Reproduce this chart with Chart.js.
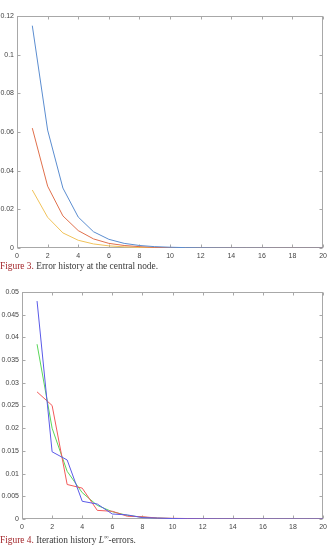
<!DOCTYPE html>
<html>
<head>
<meta charset="utf-8">
<script src="https://cdn.jsdelivr.net/npm/chart.js@4"></script>
<style>
  body { margin:0; background:#fff; width:331px; height:545px; position:relative; overflow:hidden; }
  canvas { position:absolute; left:0; }
  .cap { position:absolute; left:0; font:9.4px "Liberation Serif", "DejaVu Serif", serif; color:#3a3a3a; white-space:nowrap; line-height:10px; }
  .cap b { font-weight:normal; color:#a3262a; }
</style>
</head>
<body>
<canvas id="c1" width="331" height="262" style="top:0"></canvas>
<div class="cap" style="top:261px"><b>Figure 3.</b> Error history at the central node.</div>
<canvas id="c2" width="331" height="265" style="top:280px"></canvas>
<div class="cap" style="top:532px"><b>Figure 4.</b> Iteration history <i>L</i><sup style="font-size:6.5px">∞</sup>-errors.</div>
<script>
/* ---- data ---- */
const iters = [1,2,3,4,5,6,7,8,9,10,11,12,13,14,15,16,17,18,19,20];

// Figure 3 : error history at central node
const f3Blue   = [0.115,0.061,0.031,0.016,0.0084,0.0045,0.0024,0.0013,0.0007,0.0004,0.0002,0.0001,0.00006,0.00003,0.00002,0.00001,0,0,0,0];
const f3Red    = [0.062,0.032,0.0166,0.009,0.0047,0.0024,0.0013,0.0007,0.0003,0.0002,0.0001,0.00005,0.00003,0.00001,0,0,0,0,0,0];
const f3Yellow = [0.030,0.0159,0.0078,0.0040,0.0021,0.0011,0.0006,0.0003,0.00015,0.0001,0.00005,0.00002,0.00001,0,0,0,0,0,0,0];

// Figure 4 : iteration history, L-inf errors
const f4Blue  = [0.048,0.0148,0.013,0.0039,0.0033,0.0011,0.0009,0.0003,0.0002,0.0001,0.00005,0.00003,0.00002,0.00001,0,0,0,0,0,0];
const f4Red   = [0.028,0.025,0.0076,0.0068,0.0019,0.0017,0.0006,0.0005,0.0002,0.00015,0.0001,0.00005,0.00003,0.00002,0.00001,0,0,0,0,0];
const f4Green = [0.0385,0.020,0.0105,0.0058,0.0030,0.0016,0.0008,0.0004,0.0002,0.0001,0.00005,0.00003,0.00002,0.00001,0,0,0,0,0,0];

/* ---- matlab-ish box with inward ticks (drawn under the lines) ---- */
const boxTicks = {
  id:'boxTicks',
  beforeDatasetsDraw(chart){
    const {ctx, chartArea:a, scales:{x, y}} = chart;
    const L = Math.round(a.left)+0.5, R = Math.round(a.right)-0.5;
    const T = Math.round(a.top)+0.5,  B = Math.round(a.bottom)-0.5;
    ctx.save();
    ctx.strokeStyle = '#a8a8a8'; ctx.lineWidth = 1;
    ctx.strokeRect(L, T, R-L, B-T);
    ctx.beginPath();
    x.ticks.forEach(t => {
      const px = Math.round(x.getPixelForValue(t.value))+0.5;
      ctx.moveTo(px, B); ctx.lineTo(px, B-3);
      ctx.moveTo(px, T); ctx.lineTo(px, T+3);
    });
    y.ticks.forEach(t => {
      const py = Math.round(y.getPixelForValue(t.value))+0.5;
      ctx.moveTo(L, py); ctx.lineTo(L+3, py);
      ctx.moveTo(R, py); ctx.lineTo(R-3, py);
    });
    ctx.stroke();
    ctx.restore();
  }
};

const fmt = v => String(Number(v.toFixed(4)));
const tickFont = {family:'"Liberation Sans", Arial, sans-serif', size:7};

function makeChart(id, series, yMax, yStep, yWidth, pad){
  return new Chart(document.getElementById(id), {
    type:'line',
    data:{
      datasets: series.map(s => ({
        data: iters.map((it,i) => ({x:it, y:s.vals[i]})),
        borderColor:s.color, borderWidth:1, pointRadius:0, tension:0
      }))
    },
    options:{
      responsive:false, animation:false,
      layout:{padding:pad},
      plugins:{legend:{display:false}, tooltip:{enabled:false}},
      scales:{
        x:{type:'linear', min:0, max:20,
           ticks:{stepSize:2, font:tickFont, color:'#444', padding:4, maxRotation:0, callback:fmt},
           grid:{display:false, drawTicks:false}, border:{display:false},
           afterFit:s => { s.height = 12; }},
        y:{min:0, max:yMax,
           ticks:{stepSize:yStep, font:tickFont, color:'#444', padding:3, callback:fmt},
           grid:{display:false, drawTicks:false}, border:{display:false},
           afterFit:s => { s.width = yWidth; }}
      }
    },
    plugins:[boxTicks]
  });
}

makeChart('c1', [
  {vals:f3Blue,   color:'#5b8dd0'},
  {vals:f3Red,    color:'#e0704c'},
  {vals:f3Yellow, color:'#f0c25a'}
], 0.12, 0.02, 17, {top:16, right:5, left:0, bottom:2});

makeChart('c2', [
  {vals:f4Blue,  color:'#5a5ae8'},
  {vals:f4Red,   color:'#f25a5a'},
  {vals:f4Green, color:'#5ad65a'}
], 0.05, 0.005, 22, {top:12, right:4, left:0, bottom:14});
</script>
</body>
</html>
